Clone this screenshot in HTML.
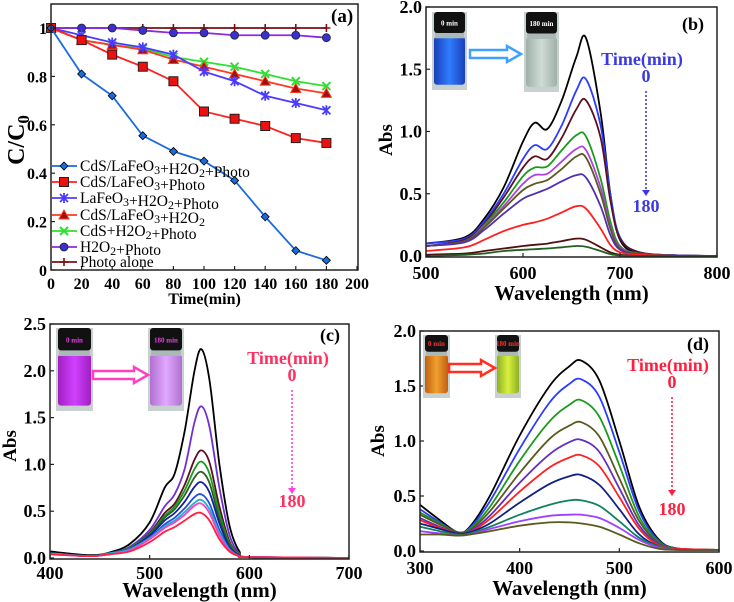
<!DOCTYPE html>
<html><head><meta charset="utf-8">
<style>
html,body{margin:0;padding:0;background:#fff;}
svg{display:block;font-family:"Liberation Serif",serif;font-weight:bold;}
</style></head>
<body>
<svg id="fig" width="734" height="602" viewBox="0 0 734 602" xmlns="http://www.w3.org/2000/svg">
  <defs>
    <linearGradient id="gBlue" x1="0" x2="1"><stop offset="0" stop-color="#1a3fb8"/><stop offset="0.5" stop-color="#2f7dff"/><stop offset="1" stop-color="#1a3fb8"/></linearGradient>
    <linearGradient id="gGray" x1="0" x2="1"><stop offset="0" stop-color="#9fb0a8"/><stop offset="0.5" stop-color="#cfdcd6"/><stop offset="1" stop-color="#9fb0a8"/></linearGradient>
    <linearGradient id="gMag" x1="0" x2="1"><stop offset="0" stop-color="#a020c0"/><stop offset="0.5" stop-color="#d040ff"/><stop offset="1" stop-color="#a020c0"/></linearGradient>
    <linearGradient id="gPink" x1="0" x2="1"><stop offset="0" stop-color="#b070d0"/><stop offset="0.5" stop-color="#e0a8ff"/><stop offset="1" stop-color="#b070d0"/></linearGradient>
    <linearGradient id="gOr" x1="0" x2="1"><stop offset="0" stop-color="#c06010"/><stop offset="0.5" stop-color="#f0a030"/><stop offset="1" stop-color="#c06010"/></linearGradient>
    <linearGradient id="gYel" x1="0" x2="1"><stop offset="0" stop-color="#90b020"/><stop offset="0.5" stop-color="#d8f040"/><stop offset="1" stop-color="#90b020"/></linearGradient>
  </defs>
</svg>
<script>
// ---------- Panel (a) data ----------
const timeA = [0,20,40,60,80,100,120,140,160,180];
const aBlue = [1,0.81,0.72,0.555,0.49,0.45,0.37,0.22,0.08,0.04];
const aRedSq = [1,0.95,0.89,0.84,0.78,0.655,0.625,0.595,0.545,0.525];
const aStar = [1,0.97,0.94,0.92,0.89,0.82,0.78,0.72,0.69,0.66];
const aTri = [1,0.95,0.93,0.91,0.87,0.84,0.81,0.78,0.75,0.73];
const aGreenX = [1,0.95,0.93,0.915,0.88,0.86,0.84,0.81,0.78,0.76];
const aCircle = [1,1,1,0.99,0.98,0.98,0.97,0.97,0.97,0.96];
const aPhoto = [1,1,1,1,1,1,1,1,1,1];
const legendA = ["CdS/LaFeO3+H2O2+Photo","CdS/LaFeO3+Photo","LaFeO3+H2O2+Photo","CdS/LaFeO3+H2O2","CdS+H2O2+Photo","H2O2+Photo","Photo alone"];
const xTicksA = [0,20,40,60,80,100,120,140,160,180,200];
const yTicksA = [0,0.2,0.4,0.6,0.8,1];
const yTickLabelsA = ["0","0.2","0.4","0.6","0.8","1"];

// ---------- Panel (b) data ----------
const wlB = [500,540,560,580,600,612,625,640,655,665,680,690,700,720,760,800];
const bCurves = [
 [.10,.15,.30,.55,.92,1.07,1.02,1.25,1.60,1.75,1.15,.50,.13,.02,.005,0],
 [.10,.14,.28,.50,.78,.89,.86,1.05,1.33,1.42,1.05,.50,.15,.03,.005,0],
 [.08,.13,.26,.47,.71,.80,.78,.95,1.18,1.25,.95,.45,.14,.03,.005,0],
 [.08,.12,.25,.43,.64,.71,.72,.85,.97,.96,.62,.28,.08,.02,.005,0],
 [.08,.12,.24,.40,.58,.65,.66,.76,.86,.85,.55,.24,.07,.02,.005,0],
 [.08,.12,.23,.38,.53,.58,.61,.70,.80,.79,.50,.22,.06,.02,.005,0],
 [.08,.11,.21,.34,.46,.50,.54,.60,.65,.63,.40,.17,.05,.01,.005,0],
 [.04,.07,.13,.20,.25,.27,.30,.35,.40,.38,.22,.09,.03,.01,0,0],
 [.01,.02,.04,.06,.08,.09,.10,.12,.14,.13,.07,.03,.01,0,0,0],
 [0,.01,.02,.04,.05,.055,.06,.07,.08,.075,.04,.015,.005,0,0,0]
];
const xTicksB = [500,600,700,800];
const yTicksB = [0,0.5,1.0,1.5,2.0];

// ---------- Panel (c) data ----------
const wlC = [400,440,460,480,500,515,525,535,545,552,560,570,580,590,600,700];
const cCurves = [
 [.07,.03,.06,.15,.38,.75,.90,1.35,2.0,2.23,1.90,1.0,.35,.07,.01,0],
 [.05,.02,.05,.12,.30,.55,.68,.95,1.45,1.62,1.40,.75,.25,.05,.01,0],
 [.05,.02,.05,.11,.27,.48,.58,.78,1.05,1.15,1.02,.55,.18,.04,.01,0],
 [.05,.02,.05,.11,.26,.45,.55,.72,.95,1.03,.90,.48,.16,.04,.01,0],
 [.05,.02,.05,.10,.25,.43,.52,.67,.86,.92,.80,.42,.14,.03,.01,0],
 [.05,.02,.05,.10,.24,.40,.48,.60,.76,.81,.70,.37,.12,.03,.01,0],
 [.05,.02,.05,.10,.22,.36,.43,.53,.65,.68,.58,.30,.10,.02,.01,0],
 [.05,.02,.05,.09,.21,.34,.40,.49,.59,.62,.52,.27,.09,.02,.01,0],
 [.04,.02,.04,.08,.20,.32,.38,.46,.56,.58,.48,.24,.08,.02,.01,0],
 [.04,.02,.04,.07,.17,.28,.33,.40,.47,.48,.40,.20,.07,.02,.01,0]
];
const xTicksC = [400,500,600,700];
const yTicksC = [0,0.5,1.0,1.5,2.0,2.5];

// ---------- Panel (d) data ----------
const wlD = [300,320,338,350,370,400,430,450,462,480,500,520,540,560,600];
const dCurves = [
 [.42,.28,.17,.22,.50,1.05,1.50,1.68,1.73,1.55,1.00,.40,.10,.02,.01],
 [.38,.26,.17,.21,.45,.93,1.35,1.52,1.56,1.40,.90,.36,.09,.02,.01],
 [.35,.25,.17,.20,.40,.82,1.18,1.33,1.37,1.22,.78,.31,.08,.02,.01],
 [.33,.24,.17,.19,.36,.71,1.02,1.14,1.17,1.04,.66,.27,.07,.02,.01],
 [.30,.22,.16,.18,.32,.62,.88,.99,1.01,.90,.57,.23,.06,.02,.01],
 [.28,.21,.16,.17,.29,.54,.76,.85,.87,.77,.49,.20,.05,.02,.01],
 [.25,.20,.16,.17,.25,.44,.61,.68,.69,.60,.38,.15,.04,.01,.01],
 [.22,.18,.15,.16,.22,.33,.42,.46,.46,.41,.27,.12,.04,.01,.01],
 [.18,.16,.14,.15,.20,.27,.32,.33,.33,.30,.21,.10,.03,.01,.01],
 [.15,.15,.14,.15,.18,.23,.26,.26,.25,.22,.15,.07,.02,.01,.01]
];
const xTicksD = [300,400,500,600];
const yTicksD = [0,0.5,1.0,1.5,2.0];

const colB = ["#000","#2a3cff","#5a1020","#1a9a1a","#b040e0","#5a5a20","#5030b0","#ff2020","#501010","#206020"];
const colC = ["#000","#7030d0","#5a1020","#1a9a1a","#2a6020","#1020a0","#2050e0","#20b0d0","#ff40c0","#ff2040"];
const colD = ["#000","#2a3cff","#1a9a1a","#5a5a20","#6030c0","#ff2020","#102080","#108060","#a040ff","#5a5a20"];

const NS="http://www.w3.org/2000/svg";
const svg=document.getElementById('fig');
function el(tag,attrs,parent){const e=document.createElementNS(NS,tag);for(const k in attrs)e.setAttribute(k,attrs[k]);(parent||svg).appendChild(e);return e;}
function txt(s,attrs,parent){const e=el('text',attrs,parent);e.textContent=s;return e;}
function lin(d0,d1,r0,r1){return v=>r0+(v-d0)/(d1-d0)*(r1-r0);}
function smooth(pts){let d="M"+pts[0][0]+","+pts[0][1];for(let i=0;i<pts.length-1;i++){const p0=pts[Math.max(0,i-1)],p1=pts[i],p2=pts[i+1],p3=pts[Math.min(pts.length-1,i+2)];const c1x=p1[0]+(p2[0]-p0[0])/6,c1y=p1[1]+(p2[1]-p0[1])/6,c2x=p2[0]-(p3[0]-p1[0])/6,c2y=p2[1]-(p3[1]-p1[1])/6;d+=` C${c1x.toFixed(1)},${c1y.toFixed(1)} ${c2x.toFixed(1)},${c2y.toFixed(1)} ${p2[0].toFixed(1)},${p2[1].toFixed(1)}`;}return d;}

function axes(g,box,xs,ys,xt,yt,ytl,xTitle,name){
  const f=el('rect',{x:box.l,y:box.t,width:box.r-box.l,height:box.b-box.t,fill:'none',stroke:'#222','stroke-width':1.5},g);
  
  const tf=box.tf||18;
  xt.forEach(v=>{const x=xs(v);el('line',{x1:x,x2:x,y1:box.b,y2:box.b-4,stroke:'#222','stroke-width':1.2},g);
    const t=txt(String(v),{x:x,y:box.b+(box.xly||22),'text-anchor':'middle','font-size':tf},g);});
  yt.forEach((v,i)=>{const y=ys(v);el('line',{x1:box.l,x2:box.l+4,y1:y,y2:y,stroke:'#222','stroke-width':1.2},g);
    const t=txt(ytl?ytl[i]:v.toFixed(1),{x:box.l-4,y:y+6,'text-anchor':'end','font-size':tf},g);});
  const xl=txt(xTitle,{x:(box.l+box.r)/2,y:box.b+(box.xty||43),'text-anchor':'middle','font-size':box.xtf||21},g);
}
function ylabel(g,s,x,y,size,name){const t=txt(s,{x:x,y:y,'text-anchor':'middle','font-size':size,transform:`rotate(-90 ${x} ${y})`},g);return t;}

// ===== Panel A =====
(function(){
  const g=el('g',{});
  const box={l:51,r:358,t:4,b:270,xtf:16,tf:16,xly:19,xty:34};
  const xs=lin(0,200,51,357), ys=lin(0,1,270,28);
  const gl=el('g',{},g);
  axes(g,box,xs,ys,xTicksA,yTicksA,yTickLabelsA,"Time(min)",'panel-a');
  const yl=ylabel(g,"",24,140,24,'panel-a');
  yl.innerHTML='C/C<tspan font-size="17" dy="5">0</tspan>';
  txt("(a)",{x:331,y:22,'font-size':19},g);
  const series=[
    {d:aBlue,c:"#1a6ae0",m:'diamond',mc:'#1a6ae0'},
    {d:aRedSq,c:"#ff2020",m:'square',mc:'#ee1010'},
    {d:aStar,c:"#4a3cff",m:'star',mc:'#4a3cff'},
    {d:aTri,c:"#ff3a20",m:'tri',mc:'#a01010'},
    {d:aGreenX,c:"#30e030",m:'x',mc:'#30e030'},
    {d:aCircle,c:"#8a2be2",m:'circle',mc:'#3a30d0'},
    {d:aPhoto,c:"#7a1010",m:'plus',mc:'#7a1010'}
  ];
  function marker(p,m,c,x,y){
    let e;
    if(m==='diamond')e=el('path',{d:`M${x},${y-4}L${x+4},${y}L${x},${y+4}L${x-4},${y}Z`,fill:c,stroke:'#000','stroke-width':0.8},p);
    else if(m==='square')e=el('rect',{x:x-4.5,y:y-4.5,width:9,height:9,fill:c,stroke:'#222','stroke-width':1},p);
    else if(m==='tri')e=el('path',{d:`M${x},${y-5}L${x+5},${y+4}L${x-5},${y+4}Z`,fill:c,stroke:'#ff3a20','stroke-width':1},p);
    else if(m==='circle')e=el('circle',{cx:x,cy:y,r:4,fill:c,stroke:'#222','stroke-width':0.8},p);
    else if(m==='x')e=el('path',{d:`M${x-4},${y-4}L${x+4},${y+4}M${x-4},${y+4}L${x+4},${y-4}`,stroke:c,'stroke-width':2},p);
    else if(m==='star')e=el('path',{d:`M${x-4},${y-4}L${x+4},${y+4}M${x-4},${y+4}L${x+4},${y-4}M${x},${y-5}L${x},${y+5}`,stroke:c,'stroke-width':1.8},p);
    else e=el('path',{d:`M${x-4},${y}L${x+4},${y}M${x},${y-4}L${x},${y+4}`,stroke:c,'stroke-width':1.6},p);
    
  }
  series.slice().reverse().forEach((s,ri)=>{
    const i=series.length-1-ri;
    const sg=el('g',{},gl);
    const pl=el('polyline',{points:timeA.map((t,k)=>xs(t)+","+ys(s.d[k])).join(" "),fill:'none',stroke:s.c,'stroke-width':1.8},sg);
    
    timeA.forEach((t,k)=>marker(sg,s.m,s.mc,xs(t),ys(s.d[k])));
  });
  const lg=el('g',{},g);
  const ly=[166,182,198,215,231,247,262];
  const fmt=s=>s.replace(/O3/g,'O<tspan font-size="12" dy="3">3</tspan><tspan dy="-3"></tspan>').replace(/O2/g,'O<tspan font-size="12" dy="3">2</tspan><tspan dy="-3"></tspan>');
  series.forEach((s,i)=>{
    const ent=el('g',{},lg);
    el('line',{x1:52,x2:77,y1:ly[i],y2:ly[i],stroke:s.c,'stroke-width':1.8},ent);
    marker(ent,s.m,s.mc,64,ly[i]);
    const t=el('text',{x:80,y:ly[i]+5,'font-size':15.5,'font-weight':'normal'},ent);
    t.innerHTML=fmt(legendA[i]);
  });
})();

function vial(g,x,y,w,h,fill,label,lc){
  const v=el('g',{},g);
  el('rect',{x:x-2,y:y,width:w+4,height:h+3,fill:'#c8d0d0'},v);
  el('rect',{x:x,y:y+h*0.33,width:w,height:h*0.64,fill:fill,rx:3},v);
  el('rect',{x:x+1,y:y+h*0.27,width:w-2,height:h*0.08,fill:'#aab8b8'},v);
  el('rect',{x:x,y:y,width:w,height:h*0.28,fill:'#111',rx:3},v);
  txt(label,{x:x+w/2,y:y+h*0.18,'text-anchor':'middle','font-size':7,fill:lc},v);
}
function arrow(g,x1,x2,y,c){
  const a=el('path',{d:`M${x1},${y-4}L${x2-14},${y-4}L${x2-14},${y-8}L${x2},${y}L${x2-14},${y+8}L${x2-14},${y+4}L${x1},${y+4}Z`,fill:'#fff',stroke:c,'stroke-width':2.5},g);
  
}
function timeAnno(g,cx,y0,yArr,y180,c,ac,name){
  const t1=txt("Time(min)",{x:cx,y:y0,'text-anchor':'middle','font-size':18,fill:c},g);
  txt("0",{x:cx+4,y:y0+17,'text-anchor':'middle','font-size':18,fill:c},g);
  el('line',{x1:cx+4,x2:cx+4,y1:y0+26,y2:yArr-5,stroke:ac,'stroke-width':1.6,'stroke-dasharray':'2,2'},g);
  el('path',{d:`M${cx},${yArr-6}L${cx+8},${yArr-6}L${cx+4},${yArr}Z`,fill:ac},g);
  txt("180",{x:cx+4,y:y180,'text-anchor':'middle','font-size':18,fill:c},g);
}
function spectra(name,box,xd,yd,xt,yt,wl,curves,cols,lbl,lblpos,abs){
  const g=el('g',{});
  const xs=lin(xd[0],xd[1],box.l,box.r), ys=lin(yd[0],yd[1],box.zb,box.zt);
  curves.forEach((c,i)=>{
    const p=el('path',{d:smooth(wl.map((w,k)=>[xs(w),ys(c[k])])),fill:'none',stroke:cols[i],'stroke-width':1.8},g);
    
  });
  axes(g,box,xs,ys,xt,yt,null,"Wavelength (nm)",name);
  ylabel(g,"Abs",abs[0],abs[1],19,name);
  const pl=txt(lbl,{x:lblpos[0],y:lblpos[1],'font-size':18},g);
  return g;
}
// ===== Panel B =====
(function(){
  const g=spectra('panel-b',{l:426,r:717,t:7,b:257,zb:256,zt:7},[500,800],[0,2],xTicksB,yTicksB,wlB,bCurves,colB,"(b)",[682,30],[392,140]);
  vial(g,434,12,31,75,'url(#gBlue)',"0 min",'#fff');
  vial(g,526,12,31,77,'url(#gGray)',"180 min",'#fff');
  arrow(g,470,521,54,'#40a0ff');
  timeAnno(g,642,65,196,212,'#3a3ae0','#3a3ae0','panel-b');
})();
// ===== Panel C =====
(function(){
  const g=spectra('panel-c',{l:50,r:349,t:324,b:559,zb:558,zt:324,xly:20,xty:38},[400,700],[0,2.5],xTicksC,yTicksC,wlC,cCurves,colC,"(c)",[320,341],[16,446]);
  vial(g,58,328,33,80,'url(#gMag)',"0 min",'#e040e0');
  vial(g,150,328,32,80,'url(#gPink)',"180 min",'#e040e0');
  arrow(g,93,148,375,'#ff40c0');
  timeAnno(g,288,364,494,507,'#ff3060','#ff40e0','panel-c');
})();
// ===== Panel D =====
(function(){
  const g=spectra('panel-d',{l:420,r:719,t:331,b:552,zb:551,zt:331},[300,600],[0,2],xTicksD,yTicksD,wlD,dCurves,colD,"(d)",[687,350],[384,441]);
  vial(g,425,335,23,60,'url(#gOr)',"0 min",'#ff3030');
  vial(g,497,335,22,60,'url(#gYel)',"180 min",'#ff3030');
  arrow(g,449,495,368,'#ff3020');
  timeAnno(g,668,371,496,515,'#ff2040','#ff2040','panel-d');
})();
</script>
</body></html>
